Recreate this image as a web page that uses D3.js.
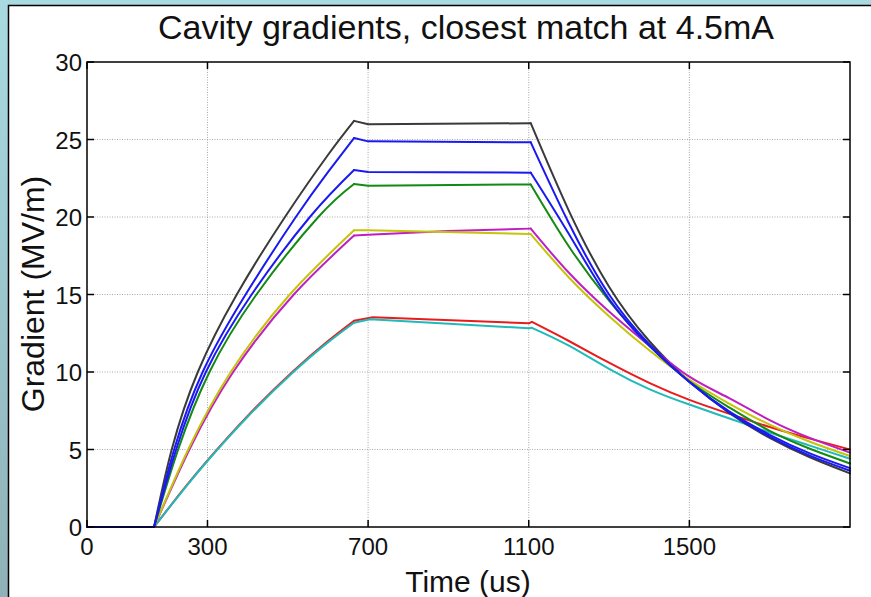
<!DOCTYPE html>
<html>
<head>
<meta charset="utf-8">
<script src="https://cdn.jsdelivr.net/npm/d3@7/dist/d3.min.js"></script>
<style>
  html, body { margin: 0; padding: 0; background: #a6d4dc; }
  svg { display: block; }
  text { font-family: "Liberation Sans", Arial, Helvetica, sans-serif; fill: #111; }
</style>
</head>
<body>
<script>
// ---------------- data ----------------
const titleText = "Cavity gradients, closest match at 4.5mA";
const xLabel = "Time (us)";
const yLabel = "Gradient (MV/m)";
const xTicks = [0, 300, 700, 1100, 1500];
const yTicks = [0, 5, 10, 15, 20, 25, 30];
const xDomain = [0, 1900];
const yDomain = [0, 30];

const blackT   = [0, 167, 211, 276, 373, 493, 600, 665, 700, 1105, 1200, 1300, 1400, 1500, 1600, 1700, 1800, 1900];
const blackV   = [0, 0, 5, 10, 15, 20, 24.0, 26.2, 25.98, 26.05, 20.4, 15.5, 12.0, 9.4, 7.35, 5.75, 4.5, 3.46];
const blue1T   = [0, 167, 217, 288, 395, 520, 600, 665, 700, 1105, 1200, 1300, 1400, 1500, 1600, 1700, 1800, 1900];
const blue1V   = [0, 0, 5, 10, 15, 20, 22.9, 25.1, 24.88, 24.82, 19.6, 15.0, 11.8, 9.35, 7.38, 5.83, 4.6, 3.63];
const blue2T   = [0, 167, 222, 296, 410, 555, 665, 700, 1105, 1200, 1300, 1400, 1500, 1600, 1700, 1800, 1900];
const blue2V   = [0, 0, 5, 10, 15, 20, 23.03, 22.9, 22.86, 18.9, 14.7, 11.7, 9.35, 7.45, 5.95, 4.75, 3.8];
const greenT   = [0, 167, 227, 305, 422, 576, 665, 700, 1105, 1200, 1300, 1400, 1500, 1600, 1700, 1800, 1900];
const greenV   = [0, 0, 5, 10, 15, 20, 22.13, 22.02, 22.1, 18.1, 14.6, 11.7, 9.4, 7.7, 6.2, 5.05, 4.1];
const yellowT  = [0, 167, 252, 358, 505, 665, 700, 1105, 1200, 1300, 1400, 1500, 1600, 1700, 1800, 1900];
const yellowV  = [0, 0, 5, 10, 15, 19.14, 19.15, 18.9, 16.1, 13.6, 11.4, 9.5, 7.95, 6.6, 5.5, 4.58];
const magentaT = [0, 167, 255, 364, 515, 665, 700, 900, 1105, 1200, 1300, 1400, 1500, 1600, 1700, 1800, 1900];
const magentaV = [0, 0, 5, 10, 15, 18.8, 18.86, 19.1, 19.25, 16.4, 13.9, 11.7, 9.7, 8.3, 6.9, 5.75, 4.8];
const redT     = [0, 167, 200, 250, 300, 400, 514, 600, 665, 712, 1100, 1108, 1200, 1300, 1400, 1500, 1600, 1700, 1800, 1900];
const redV     = [0, 0, 1.11, 2.75, 4.3, 7.17, 10.07, 12.0, 13.31, 13.53, 13.14, 13.23, 12.0, 10.6, 9.3, 8.2, 7.3, 6.45, 5.7, 5.0];
const cyanT    = [0, 167, 200, 250, 300, 400, 514, 600, 665, 705, 1100, 1108, 1200, 1300, 1400, 1500, 1600, 1700, 1800, 1900];
const cyanV    = [0, 0, 1.10, 2.72, 4.26, 7.11, 10.0, 11.91, 13.18, 13.4, 12.82, 12.85, 11.7, 10.2, 8.9, 7.9, 7.0, 6.1, 5.25, 4.4];

const colorBlack = "#3a3a3a", colorBlue = "#1a1af0", colorGreen = "#138a13",
      colorYellow = "#c4c40a", colorMagenta = "#c01fc0", colorRed = "#e81c1c", colorCyan = "#20baba";
// drawing order (first drawn is at the bottom)
const seriesT = [redT, cyanT, blackT, magentaT, yellowT, greenT, blue2T, blue1T];
const seriesV = [redV, cyanV, blackV, magentaV, yellowV, greenV, blue2V, blue1V];
const seriesC = [colorRed, colorCyan, colorBlack, colorMagenta, colorYellow, colorGreen, colorBlue, colorBlue];

// ---------------- layout ----------------
const W = 871, H = 597;
const plot = { left: 87, right: 850, top: 62, bottom: 527 };

const svg = d3.select("body").append("svg").attr("width", W).attr("height", H);
const defs = svg.append("defs");
const grad = defs.append("linearGradient").attr("id", "bg").attr("x1", 0).attr("y1", 0).attr("x2", 0).attr("y2", 1);
grad.append("stop").attr("offset", "0%").attr("stop-color", "#a9dae2");
grad.append("stop").attr("offset", "100%").attr("stop-color", "#8eb2b7");
svg.append("rect").attr("width", W).attr("height", H).attr("fill", "url(#bg)");
svg.append("rect").attr("x", 8.5).attr("y", 5.5).attr("width", W + 10).attr("height", H + 10)
  .attr("fill", "#fff").attr("stroke", "#000").attr("stroke-width", 1.5);

const x = d3.scaleLinear().domain(xDomain).range([plot.left, plot.right]);
const y = d3.scaleLinear().domain(yDomain).range([plot.bottom, plot.top]);

// grid
const grid = svg.append("g").attr("stroke", "#a8a8a8").attr("stroke-width", 1).attr("stroke-dasharray", "1,1.5");
grid.selectAll(".gx").data(xTicks.filter(t => t > xDomain[0] && t < xDomain[1])).join("line")
  .attr("x1", d => x(d)).attr("x2", d => x(d)).attr("y1", plot.top).attr("y2", plot.bottom);
grid.selectAll(".gy").data(yTicks.filter(t => t > yDomain[0] && t < yDomain[1])).join("line")
  .attr("y1", d => y(d)).attr("y2", d => y(d)).attr("x1", plot.left).attr("x2", plot.right);

// lines
const lineSmooth = d3.line().x(d => x(d[0])).y(d => y(d[1])).curve(d3.curveNatural);
const lineLin = d3.line().x(d => x(d[0])).y(d => y(d[1]));
const gLines = svg.append("g").attr("fill", "none").attr("stroke-width", 2)
  .attr("stroke-linejoin", "round").attr("stroke-linecap", "round");
seriesT.forEach((T, i) => {
  const pts = T.map((t, j) => [t, seriesV[i][j]]);
  const startT = T[1];
  const peakT = 665;
  const topEnd = d3.max(T.filter(t => t <= 1110));
  const parts = [
    [pts.filter(p => p[0] <= startT), lineLin],
    [pts.filter(p => p[0] >= startT && p[0] <= peakT), lineSmooth],
    [pts.filter(p => p[0] >= peakT && p[0] <= topEnd), lineLin],
    [pts.filter(p => p[0] >= topEnd), lineSmooth]
  ];
  parts.forEach(([p, gen]) => {
    gLines.append("path").attr("d", gen(p)).attr("stroke", seriesC[i]);
  });
});

// box and ticks
const axisG = svg.append("g").attr("stroke", "#000").attr("stroke-width", 1.5).attr("fill", "none");
axisG.append("rect").attr("x", plot.left).attr("y", plot.top)
  .attr("width", plot.right - plot.left).attr("height", plot.bottom - plot.top);
const tl = 7;
xTicks.forEach(t => {
  axisG.append("line").attr("x1", x(t)).attr("x2", x(t)).attr("y1", plot.bottom).attr("y2", plot.bottom - tl);
  axisG.append("line").attr("x1", x(t)).attr("x2", x(t)).attr("y1", plot.top).attr("y2", plot.top + tl);
});
yTicks.forEach(t => {
  axisG.append("line").attr("y1", y(t)).attr("y2", y(t)).attr("x1", plot.left).attr("x2", plot.left + tl);
  axisG.append("line").attr("y1", y(t)).attr("y2", y(t)).attr("x1", plot.right).attr("x2", plot.right - tl);
});

// tick labels
svg.selectAll(".xl").data(xTicks).join("text")
  .attr("x", d => x(d)).attr("y", 555).attr("text-anchor", "middle")
  .attr("font-size", 24).text(d => d);
svg.selectAll(".yl").data(yTicks).join("text")
  .attr("x", plot.left - 5).attr("y", d => y(d) + 9).attr("text-anchor", "end")
  .attr("font-size", 24).text(d => d);

// titles
svg.append("text").attr("x", 466).attr("y", 39).attr("text-anchor", "middle")
  .attr("font-size", 34).text(titleText);
svg.append("text").attr("x", 468).attr("y", 592).attr("text-anchor", "middle")
  .attr("font-size", 30).text(xLabel);
svg.append("text").attr("transform", "translate(44,294) rotate(-90)").attr("text-anchor", "middle")
  .attr("font-size", 32).text(yLabel);
</script>
</body>
</html>
